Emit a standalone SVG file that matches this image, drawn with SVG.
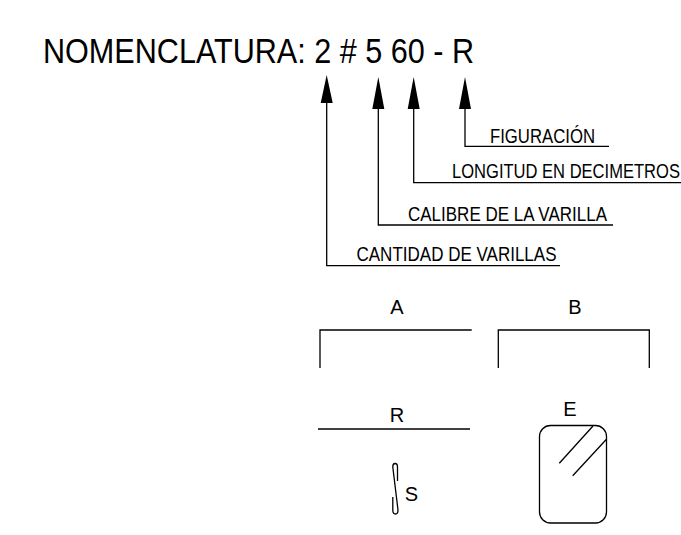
<svg xmlns="http://www.w3.org/2000/svg" width="681" height="535" viewBox="0 0 681 535">
<style>
text{font-family:"Liberation Sans",Arial,sans-serif;fill:#000}
.t{font-size:35px}
.l{font-size:19.5px}
.n{font-size:20px;text-anchor:middle}
.c{fill:none;stroke:#000;stroke-width:1.3}
.a{fill:#000;stroke:none}
</style>
<rect width="681" height="535" fill="#fff"/>
<g id="title"><text class="t" x="43" y="63" textLength="431" lengthAdjust="spacingAndGlyphs">NOMENCLATURA: 2 # 5 60 - R</text></g>
<g id="connectors">
<path class="c" d="M326.7 100V265.7H560"/>
<path class="c" d="M378.3 105V225H613"/>
<path class="c" d="M413.7 105V182.7H681"/>
<path class="c" d="M465 105V146.3H609"/>
<path class="a" d="M326.7 75L332.7 103H320.7Z"/>
<path class="a" d="M378.3 77L384.3 109H372.3Z"/>
<path class="a" d="M413.7 77L419.7 109H407.7Z"/>
<path class="a" d="M465 77L471 109H459Z"/>
</g>
<g id="label-figuracion"><text class="l" x="490" y="142.7" textLength="105" lengthAdjust="spacingAndGlyphs">FIGURACIÓN</text></g>
<g id="label-longitud"><text class="l" transform="translate(452 178.3) scale(.8485 1)">LONGITUD EN DECIMETROS</text></g>
<g id="label-calibre"><text class="l" x="408" y="220.5" textLength="199" lengthAdjust="spacingAndGlyphs">CALIBRE DE LA VARILLA</text></g>
<g id="label-cantidad"><text class="l" x="356.5" y="260.5" textLength="200" lengthAdjust="spacingAndGlyphs">CANTIDAD DE VARILLAS</text></g>
<g id="shape-a"><text class="n" x="397" y="314">A</text><path class="c" d="M320 368V330H471.7"/></g>
<g id="shape-b"><text class="n" x="575" y="314">B</text><path class="c" d="M498.3 368V330H649.3V368"/></g>
<g id="shape-r"><text class="n" x="397" y="422.3">R</text><path class="c" d="M318 429H470"/></g>
<g id="shape-e"><text class="n" x="570" y="416">E</text><rect class="c" x="539.5" y="425.5" width="67" height="97.5" rx="11"/><path class="c" d="M559.3 463.3L593 426M572.7 475.7L606.7 439"/></g>
<g id="shape-s"><text class="n" x="411.5" y="500.7">S</text><path class="c" d="M397.5 481V467Q397.5 463.5 395 463.5Q392.8 463.5 392.8 467L398 510Q398 514 395.5 514Q392.8 514 392.8 510V497"/></g>
</svg>
